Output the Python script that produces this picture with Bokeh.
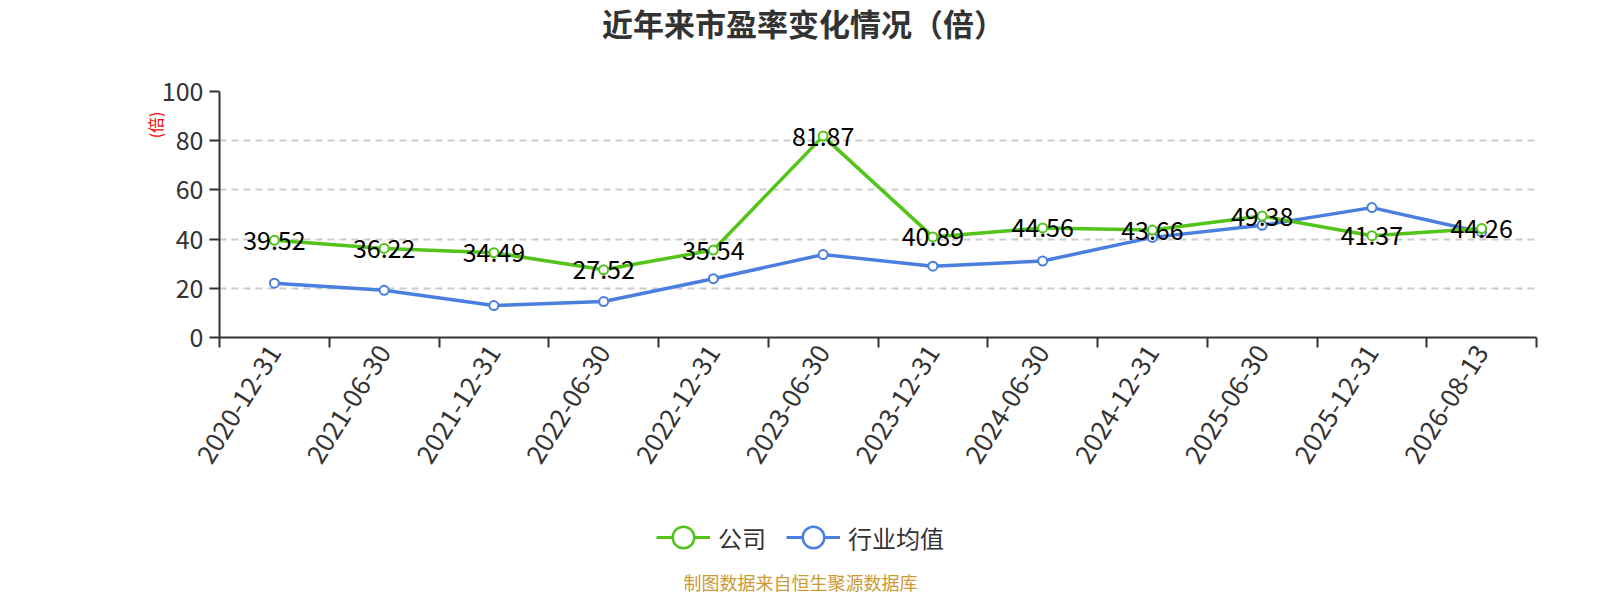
import math
from bokeh.plotting import figure
from bokeh.layouts import column
from bokeh.models import (Range1d, FixedTicker, Label, Legend, LegendItem,
                          ColumnDataSource, Title)
from bokeh.core.properties import value
from bokeh.embed import file_html
from bokeh.resources import INLINE

# ---- data ----
categories = ["2020-12-31", "2021-06-30", "2021-12-31", "2022-06-30",
              "2022-12-31", "2023-06-30", "2023-12-31", "2024-06-30",
              "2024-12-31", "2025-06-30", "2025-12-31", "2026-08-13"]
company_pe = [39.52, 36.22, 34.49, 27.52, 35.54, 81.87, 40.89, 44.56,
              43.66, 49.38, 41.37, 44.26]
industry_pe = [22.1, 19.2, 13.0, 14.6, 23.9, 33.7, 29.0, 31.1,
               40.7, 45.6, 52.8, 42.8]
y_ticks = [0, 20, 40, 60, 80, 100]

title_text = "近年来市盈率变化情况（倍）"
y_name = "(倍)"
series_names = ["公司", "行业均值"]
source_text = "制图数据来自恒生聚源数据库"

GREEN = "#52c41a"
BLUE = "#4a7fe0"
FONT = "Noto Sans CJK SC"
TXT = "#333333"

W = 1584
LEFT, RIGHT = 219, 48          # frame borders shared by all rows
H_TOP, H_MAIN, H_BOT = 60, 417, 121


def blank(h):
    # frame is aligned with the main chart's frame by the column layout,
    # so map data x directly onto canvas pixels
    f = figure(width=W, height=h, output_backend="svg", toolbar_location=None,
               x_range=Range1d(LEFT, W - RIGHT), y_range=Range1d(h, 0),
               x_axis_location=None, y_axis_location=None,
               min_border_left=LEFT, min_border_right=RIGHT,
               min_border_top=0, min_border_bottom=0)
    f.outline_line_color = None
    f.xgrid.visible = False
    f.ygrid.visible = False
    return f


# ---- header ----
top = blank(H_TOP)
top.add_layout(Label(x=803, y=22, text=title_text, text_align="center",
                     text_baseline="middle", text_font=FONT,
                     text_font_size="31px", text_font_style="bold",
                     text_color=TXT))

# ---- main chart ----
n = len(categories)
xs = [i + 0.5 for i in range(n)]
src = ColumnDataSource(dict(x=xs, c=company_pe, ind=industry_pe,
                            lab=["%.2f" % v for v in company_pe]))

p = figure(width=W, height=H_MAIN, output_backend="svg", toolbar_location=None,
           x_range=Range1d(0, n), y_range=Range1d(0, 100),
           min_border_left=LEFT, min_border_right=RIGHT,
           min_border_top=31, min_border_bottom=140)
p.outline_line_color = None

xa = p.xaxis[0]
xa.ticker = FixedTicker(ticks=xs, minor_ticks=list(range(n + 1)))
xa.major_label_overrides = {x: c for x, c in zip(xs, categories)}
xa.major_label_orientation = math.radians(58)
xa.major_tick_line_color = None
xa.minor_tick_line_color = TXT
xa.minor_tick_line_width = 2
xa.minor_tick_out = 10
xa.minor_tick_in = 0
xa.axis_line_color = TXT
xa.axis_line_width = 2
xa.major_label_text_font = FONT
xa.major_label_text_font_size = "26px"
xa.major_label_text_color = TXT
xa.major_label_standoff = 0

ya = p.yaxis[0]
ya.ticker = FixedTicker(ticks=y_ticks, minor_ticks=[])
ya.axis_line_color = TXT
ya.axis_line_width = 2
ya.major_tick_line_color = TXT
ya.major_tick_line_width = 2
ya.major_tick_out = 10
ya.major_tick_in = 0
ya.major_label_text_font = FONT
ya.major_label_text_font_size = "25px"
ya.major_label_text_color = TXT
ya.major_label_standoff = 6

p.xgrid.grid_line_color = None
p.ygrid.ticker = FixedTicker(ticks=y_ticks)
p.ygrid.grid_line_color = "#cccccc"
p.ygrid.grid_line_dash = "7 5"
p.ygrid.grid_line_width = 2

p.line("x", "ind", source=src, color=BLUE, line_width=3.5)
p.line("x", "c", source=src, color=GREEN, line_width=3.5)
p.scatter("x", "ind", source=src, size=9, fill_color="white",
          line_color=BLUE, line_width=2)
p.scatter("x", "c", source=src, size=9, fill_color="white",
          line_color=GREEN, line_width=2)
p.text("x", "c", text="lab", source=src, text_align="center",
       text_baseline="middle", text_font=value(FONT),
       text_font_size="25px", text_color="black")

p.add_layout(Title(text=y_name, align="right", offset=20, standoff=-17,
                   text_font=FONT, text_font_size="16px",
                   text_font_style="normal", text_color="red"), "left")

# ---- bottom: legend + source ----
bot = blank(H_BOT)
nan = float("nan")
lg1 = bot.line([nan], [nan], color=GREEN, line_width=3)
ls1 = bot.scatter([nan], [nan], size=22, fill_color="white",
                  line_color=GREEN, line_width=2.5)
lg2 = bot.line([nan], [nan], color=BLUE, line_width=3)
ls2 = bot.scatter([nan], [nan], size=22, fill_color="white",
                  line_color=BLUE, line_width=2.5)
legend = Legend(items=[LegendItem(label=series_names[0], renderers=[lg1, ls1]),
                       LegendItem(label=series_names[1], renderers=[lg2, ls2])],
                orientation="horizontal", location=(656 - LEFT, H_BOT - 60 - 27),
                glyph_width=54, glyph_height=54, label_height=54,
                label_standoff=8, spacing=20, padding=0, margin=0,
                border_line_color=None, background_fill_alpha=0,
                label_text_font=FONT, label_text_font_size="24px",
                label_text_color=TXT, label_text_baseline="middle")
bot.add_layout(legend, "center")
bot.add_layout(Label(x=800, y=104, text=source_text, text_align="center",
                     text_baseline="middle", text_font=FONT,
                     text_font_size="18px", text_color="#cc9933"))

layout = column(top, p, bot, spacing=0)
open("out.html", "w").write(file_html(layout, INLINE))
